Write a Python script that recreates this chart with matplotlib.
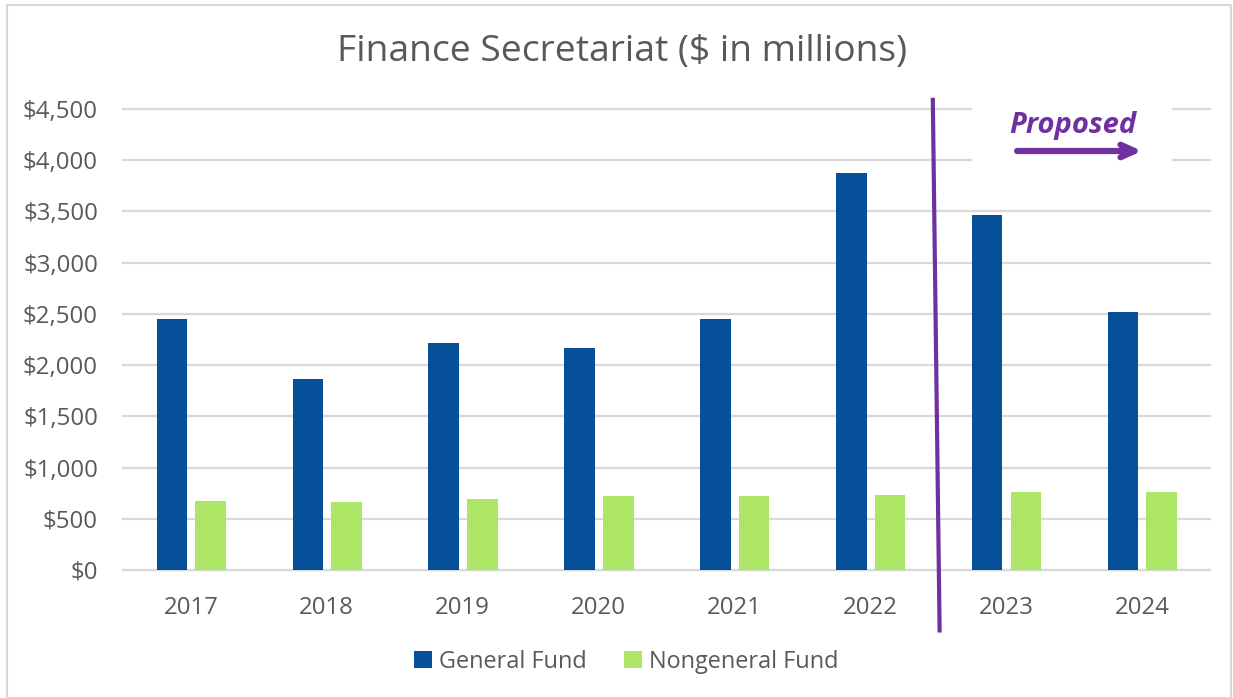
import matplotlib.pyplot as plt
from matplotlib.patches import Patch, Rectangle
from matplotlib.lines import Line2D
import numpy as np

plt.rcParams['font.family'] = ['Open Sans', 'DejaVu Sans']

# --- data ---
years = ['2017', '2018', '2019', '2020', '2021', '2022', '2023', '2024']
general_fund = [2450, 1865, 2215, 2165, 2450, 3875, 3465, 2520]
nongeneral_fund = [670, 662, 690, 718, 718, 728, 758, 760]
y_ticks = [0, 500, 1000, 1500, 2000, 2500, 3000, 3500, 4000, 4500]

BLUE = '#06509A'
GREEN = '#ADE566'
PURPLE = '#7030A0'
TEXT = '#595959'
GRID = '#D9D9D9'

fig = plt.figure(figsize=(12.33, 6.98), dpi=100)
ax = fig.add_axes([123 / 1233, 1 - 570 / 698, (1210 - 123) / 1233, (570 - 109) / 698])

x = np.arange(len(years))
w = 0.225
ax.bar(x - 0.14, general_fund, width=w, color=BLUE, zorder=3)
ax.bar(x + 0.145, nongeneral_fund, width=w, color=GREEN, zorder=3)

ax.set_xlim(-0.5, len(years) - 0.5)
ax.set_ylim(0, 4500)
ax.set_yticks(y_ticks)
ax.set_yticklabels([f'${v:,}' for v in y_ticks])
ax.set_xticks(x)
ax.set_xticklabels(years)
ax.tick_params(axis='both', length=0, labelsize=17.3, colors=TEXT)
ax.tick_params(axis='y', pad=18)
ax.tick_params(axis='x', pad=19)
ax.yaxis.grid(True, color=GRID, linewidth=1.6, zorder=0)
for gl in ax.get_ygridlines():
    gl.set_clip_on(False)
for s in ['top', 'right', 'left']:
    ax.spines[s].set_visible(False)
ax.spines['bottom'].set_color(GRID)
ax.spines['bottom'].set_linewidth(1.6)

# divider between actual and proposed years
ax.add_line(Line2D([5.46, 5.51], [4590, -590], color=PURPLE, linewidth=3,
                   clip_on=False, zorder=5))

# "Proposed" label with arrow over a white box
ax.add_patch(Rectangle((5.75, 3900), 1.47, 700, facecolor='white', edgecolor='none',
                       clip_on=False, zorder=2))
ax.text(6.49, 4340, 'Proposed', color=PURPLE, fontsize=21, fontweight='bold',
        fontstyle='italic', ha='center', va='center', zorder=6)
ax.annotate('', xy=(7.02, 4090), xytext=(6.06, 4090),
            arrowprops=dict(arrowstyle='->,head_length=1.0,head_width=0.45',
                            color=PURPLE, linewidth=4.5), zorder=6)

fig.text(0.5045, 1 - 52 / 698, 'Finance Secretariat ($ in millions)', ha='center',
         va='center', fontsize=26.8, color=TEXT)

handles = [Patch(facecolor=BLUE, label='General Fund'),
           Patch(facecolor=GREEN, label='Nongeneral Fund')]
fig.legend(handles=handles, loc='center', bbox_to_anchor=(0.508, 1 - 662 / 698),
           ncol=2, frameon=False, fontsize=16.9, labelcolor=TEXT,
           handlelength=0.75, handleheight=0.75, handletextpad=0.3, columnspacing=1.6)

# chart border
fig.add_artist(Rectangle((7 / 1233, 0), 1224 / 1233, 693 / 698, transform=fig.transFigure,
                         fill=False, edgecolor=GRID, linewidth=1.5))

fig.savefig('out.png', dpi=100, facecolor='white')
